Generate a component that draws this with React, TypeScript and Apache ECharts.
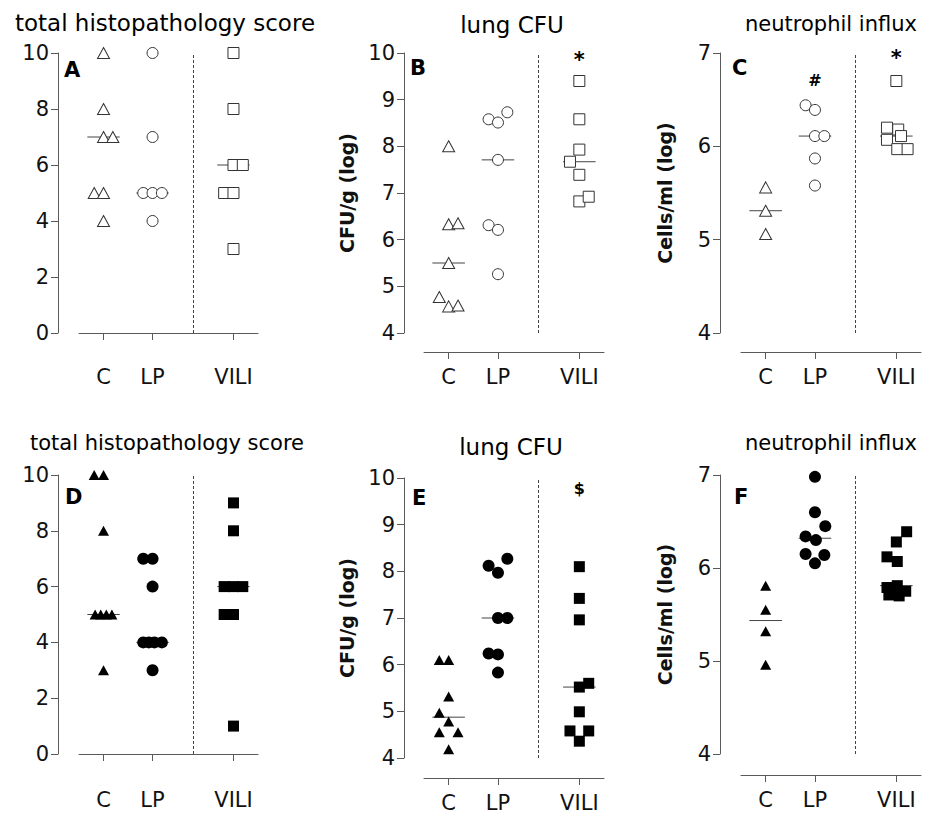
import React, { useEffect, useRef } from 'react';
import * as echarts from 'echarts';

// ---- categories / axis ----
const GROUPS = ['C', 'LP', 'VILI'];
const GROUP_POS = [1, 2, 3.65];
const X_MIN = 0.5;
const X_MAX = 4.15;
const DIVIDER_X = 2.82;
const JITTER_STEP = 0.19;
const MEDIAN_HALF = 0.33;

// ---- Panel A: total histopathology score (open symbols) ----
const A_C = [10, 8, 7, 7, 5, 5, 4];
const A_C_J = [0, 0, 0, 1, -1, 0, 0];
const A_LP = [10, 7, 5, 5, 5, 4];
const A_LP_J = [0, 0, -1, 0, 1, 0];
const A_VILI = [10, 8, 6, 6, 5, 5, 3];
const A_VILI_J = [0, 0, 0, 1, -1, 0, 0];

// ---- Panel B: lung CFU (open symbols) ----
const B_C = [8.0, 6.33, 6.35, 5.5, 4.77, 4.57, 4.59];
const B_C_J = [0, 0, 1, 0, -1, 0, 1];
const B_LP = [8.58, 8.51, 8.73, 7.71, 6.31, 6.21, 5.26];
const B_LP_J = [-1, 0, 1, 0, -1, 0, 0];
const B_VILI = [9.4, 8.58, 7.93, 7.67, 7.39, 6.82, 6.92];
const B_VILI_J = [0, 0, 0, -1, 0, 0, 1];

// ---- Panel C: neutrophil influx (open symbols) ----
const C_C = [5.56, 5.31, 5.06];
const C_C_J = [0, 0, 0];
const C_LP = [6.44, 6.39, 6.11, 6.11, 5.87, 5.58];
const C_LP_J = [-1, 0, 0, 1, 0, 0];
const C_VILI = [6.7, 6.2, 6.18, 6.11, 6.07, 5.97, 5.97];
const C_VILI_J = [0, -1, 0.2, 0.5, -1, 0.1, 1.2];

// ---- Panel D: total histopathology score (filled symbols) ----
const D_C = [10, 10, 8, 5, 5, 5, 5, 3];
const D_C_J = [-1, 0, 0, -0.9, -0.3, 0.3, 0.9, 0];
const D_LP = [7, 7, 6, 4, 4, 4, 4, 3];
const D_LP_J = [-1, 0, 0, -1, -0.4, 0.2, 1, 0];
const D_VILI = [9, 8, 6, 6, 6, 5, 5, 1];
const D_VILI_J = [0, 0, -1, 0, 1, -1, 0, 0];

// ---- Panel E: lung CFU (filled symbols) ----
const E_C = [6.1, 6.1, 5.32, 4.97, 4.78, 4.55, 4.55, 4.19];
const E_C_J = [-1, 0, 0, -1, 0, -1, 1, 0];
const E_LP = [8.12, 7.97, 8.27, 7.0, 7.0, 6.24, 6.22, 5.83];
const E_LP_J = [-1, 0, 1, 0, 1, -1, 0, 0];
const E_VILI = [8.1, 7.42, 6.96, 5.52, 5.6, 4.99, 4.58, 4.58, 4.36];
const E_VILI_J = [0, 0, 0, 0, 1, 0, -1, 1, 0];

// ---- Panel F: neutrophil influx (filled symbols) ----
const F_C = [5.81, 5.55, 5.32, 4.96];
const F_C_J = [0, 0, 0, 0];
const F_LP = [6.98, 6.6, 6.45, 6.34, 6.3, 6.15, 6.14, 6.05];
const F_LP_J = [0, 0, 1.1, -1, 0.1, -1, 1, 0];
const F_VILI = [6.39, 6.28, 6.12, 6.07, 5.81, 5.79, 5.75, 5.71, 5.7];
const F_VILI_J = [1.1, 0, -1, 0.1, 0.1, -1, 1, -0.8, 0.3];

// ---- annotations (significance marks) ----
const B_MARKS = [{ group: 2, y: 9.86, text: '*' }];
const C_MARKS = [{ group: 1, y: 6.71, text: '#' }, { group: 2, y: 6.95, text: '*' }];
const E_MARKS = [{ group: 2, y: 9.78, text: '$' }];

const FONT = '"DejaVu Sans", "Liberation Sans", Arial, sans-serif';
const AXIS_COLOR = '#5a5a5a';

const PANELS = [
  { letter: 'A', title: 'total histopathology score', titleSize: 23, yMin: 0, yMax: 10, yInt: 2, yName: '', filled: false,
    values: [A_C, A_LP, A_VILI], jit: [A_C_J, A_LP_J, A_VILI_J], marks: [] as any[] },
  { letter: 'B', title: 'lung CFU', titleSize: 23, yMin: 4, yMax: 10, yInt: 1, yName: 'CFU/g (log)', filled: false,
    values: [B_C, B_LP, B_VILI], jit: [B_C_J, B_LP_J, B_VILI_J], marks: B_MARKS },
  { letter: 'C', title: 'neutrophil influx', titleSize: 21, yMin: 4, yMax: 7, yInt: 1, yName: 'Cells/ml (log)', filled: false,
    values: [C_C, C_LP, C_VILI], jit: [C_C_J, C_LP_J, C_VILI_J], marks: C_MARKS },
  { letter: 'D', title: 'total histopathology score', titleSize: 21, yMin: 0, yMax: 10, yInt: 2, yName: '', filled: true,
    values: [D_C, D_LP, D_VILI], jit: [D_C_J, D_LP_J, D_VILI_J], marks: [] as any[] },
  { letter: 'E', title: 'lung CFU', titleSize: 23, yMin: 4, yMax: 10, yInt: 1, yName: 'CFU/g (log)', filled: true,
    values: [E_C, E_LP, E_VILI], jit: [E_C_J, E_LP_J, E_VILI_J], marks: E_MARKS },
  { letter: 'F', title: 'neutrophil influx', titleSize: 21, yMin: 4, yMax: 7, yInt: 1, yName: 'Cells/ml (log)', filled: true,
    values: [F_C, F_LP, F_VILI], jit: [F_C_J, F_LP_J, F_VILI_J], marks: [] as any[] },
];

// layout (pixels)
const LAYOUT = [
  { left: 79, top: 53, width: 179, height: 280, yOff: 21, xOff: 19, nameGap: 48, titleX: 165, titleY: 23, letterX: 64, letterY: 70 },
  { left: 424, top: 53, width: 180, height: 280, yOff: 20, xOff: 19, nameGap: 48, titleX: 512, titleY: 25, letterX: 410, letterY: 68 },
  { left: 741, top: 53, width: 180, height: 280, yOff: 21, xOff: 19, nameGap: 46, titleX: 831, titleY: 24, letterX: 732, letterY: 68 },
  { left: 79, top: 475, width: 179, height: 279, yOff: 21, xOff: 21, nameGap: 48, titleX: 167, titleY: 443, letterX: 65, letterY: 497 },
  { left: 424, top: 478, width: 180, height: 280, yOff: 20, xOff: 20, nameGap: 48, titleX: 511, titleY: 447, letterX: 412, letterY: 498 },
  { left: 741, top: 475, width: 180, height: 279, yOff: 21, xOff: 21, nameGap: 46, titleX: 831, titleY: 443, letterX: 734, letterY: 497 },
];

function median(arr: number[]) {
  const s = [...arr].sort((a, b) => a - b);
  const n = s.length;
  return n % 2 ? s[(n - 1) / 2] : (s[n / 2 - 1] + s[n / 2]) / 2;
}

const SYMBOLS = ['triangle', 'circle', 'rect'];

function buildOption() {
  const grid: any[] = [];
  const xAxis: any[] = [];
  const yAxis: any[] = [];
  const series: any[] = [];
  const graphic: any[] = [];

  PANELS.forEach((p, i) => {
    const L = LAYOUT[i];
    grid.push({ left: L.left, top: L.top, width: L.width, height: L.height, containLabel: false });
    xAxis.push({
      type: 'value', gridIndex: i, min: X_MIN, max: X_MAX, position: 'bottom', offset: L.xOff,
      splitLine: { show: false },
      axisLine: { show: true, lineStyle: { color: AXIS_COLOR, width: 1 } },
      axisTick: { show: true, customValues: GROUP_POS, length: 7, lineStyle: { color: AXIS_COLOR } },
      axisLabel: {
        show: true, customValues: GROUP_POS, margin: 14, color: '#111', fontSize: 21, fontFamily: FONT,
        formatter: (v: number) => {
          const k = GROUP_POS.findIndex((g) => Math.abs(g - v) < 1e-6);
          return k >= 0 ? GROUPS[k] : '';
        },
      },
    });
    yAxis.push({
      type: 'value', gridIndex: i, min: p.yMin, max: p.yMax, interval: p.yInt, offset: L.yOff,
      name: p.yName, nameLocation: 'middle', nameGap: L.nameGap, nameRotate: 90,
      nameTextStyle: { fontFamily: FONT, fontWeight: 'bold', fontSize: 19, color: '#111' },
      splitLine: { show: false },
      axisLine: { show: true, lineStyle: { color: AXIS_COLOR, width: 1 } },
      axisTick: { show: true, length: 7, lineStyle: { color: AXIS_COLOR } },
      axisLabel: { margin: 9, color: '#111', fontSize: 21, fontFamily: FONT },
    });

    p.values.forEach((vals, g) => {
      const med = median(vals);
      const pos = GROUP_POS[g];
      series.push({
        type: 'line', xAxisIndex: i, yAxisIndex: i, silent: true, symbol: 'none', z: 2,
        lineStyle: { color: '#444', width: 1 },
        data: [[pos - MEDIAN_HALF, med], [pos + MEDIAN_HALF, med]],
      });
    });

    p.values.forEach((vals, g) => {
      const pos = GROUP_POS[g];
      const sym = SYMBOLS[g];
      let size: any;
      if (p.filled) size = sym === 'triangle' ? [11, 10] : sym === 'circle' ? 12 : 11;
      else size = sym === 'triangle' ? [12, 11] : 11;
      const s: any = {
        type: 'scatter', xAxisIndex: i, yAxisIndex: i, symbol: sym, symbolSize: size, z: 3, clip: false, silent: true,
        itemStyle: p.filled
          ? { color: '#000', borderColor: '#000', borderWidth: 0, opacity: 1 }
          : { color: '#fff', borderColor: '#333', borderWidth: 1, opacity: 1 },
        data: vals.map((v, k) => [pos + p.jit[g][k] * JITTER_STEP, v]),
      };
      if (g === 2) {
        s.markLine = {
          silent: true, symbol: 'none', label: { show: false },
          lineStyle: { color: '#444', width: 1, type: [3, 2] },
          data: [{ xAxis: DIVIDER_X }],
        };
      }
      series.push(s);
    });

    if (p.marks.length) {
      series.push({
        type: 'scatter', xAxisIndex: i, yAxisIndex: i, symbolSize: 1, z: 4, clip: false, silent: true,
        itemStyle: { color: 'rgba(0,0,0,0)', opacity: 1 },
        label: {
          show: true, position: 'inside', opacity: 1,
          formatter: (q: any) => String(q.value[2]),
          fontFamily: FONT, fontWeight: 'bold', color: '#000',
        },
        data: p.marks.map((m: any) => ({
          value: [GROUP_POS[m.group], m.y, m.text],
          label: { fontSize: m.text === '*' ? 21 : 16 },
        })),
      });
    }

    graphic.push({
      type: 'text', x: L.titleX, y: L.titleY, silent: true,
      style: { text: p.title, font: `${p.titleSize}px ${FONT}`, fill: '#000', align: 'center', verticalAlign: 'middle' },
    });
    graphic.push({
      type: 'text', x: L.letterX, y: L.letterY, silent: true,
      style: { text: p.letter, font: `bold 21px ${FONT}`, fill: '#000', align: 'left', verticalAlign: 'middle' },
    });
  });

  return { animation: false, backgroundColor: '#fff', grid, xAxis, yAxis, series, graphic };
}

export default function App() {
  const ref = useRef<HTMLDivElement>(null);
  useEffect(() => {
    if (!ref.current) return;
    const chart = echarts.init(ref.current, undefined, { renderer: 'svg' });
    chart.setOption(buildOption() as any);
    return () => chart.dispose();
  }, []);
  return (
    <div
      ref={ref}
      style={{ position: 'fixed', left: 0, top: 0, width: 933, height: 815, background: '#fff' }}
    />
  );
}
